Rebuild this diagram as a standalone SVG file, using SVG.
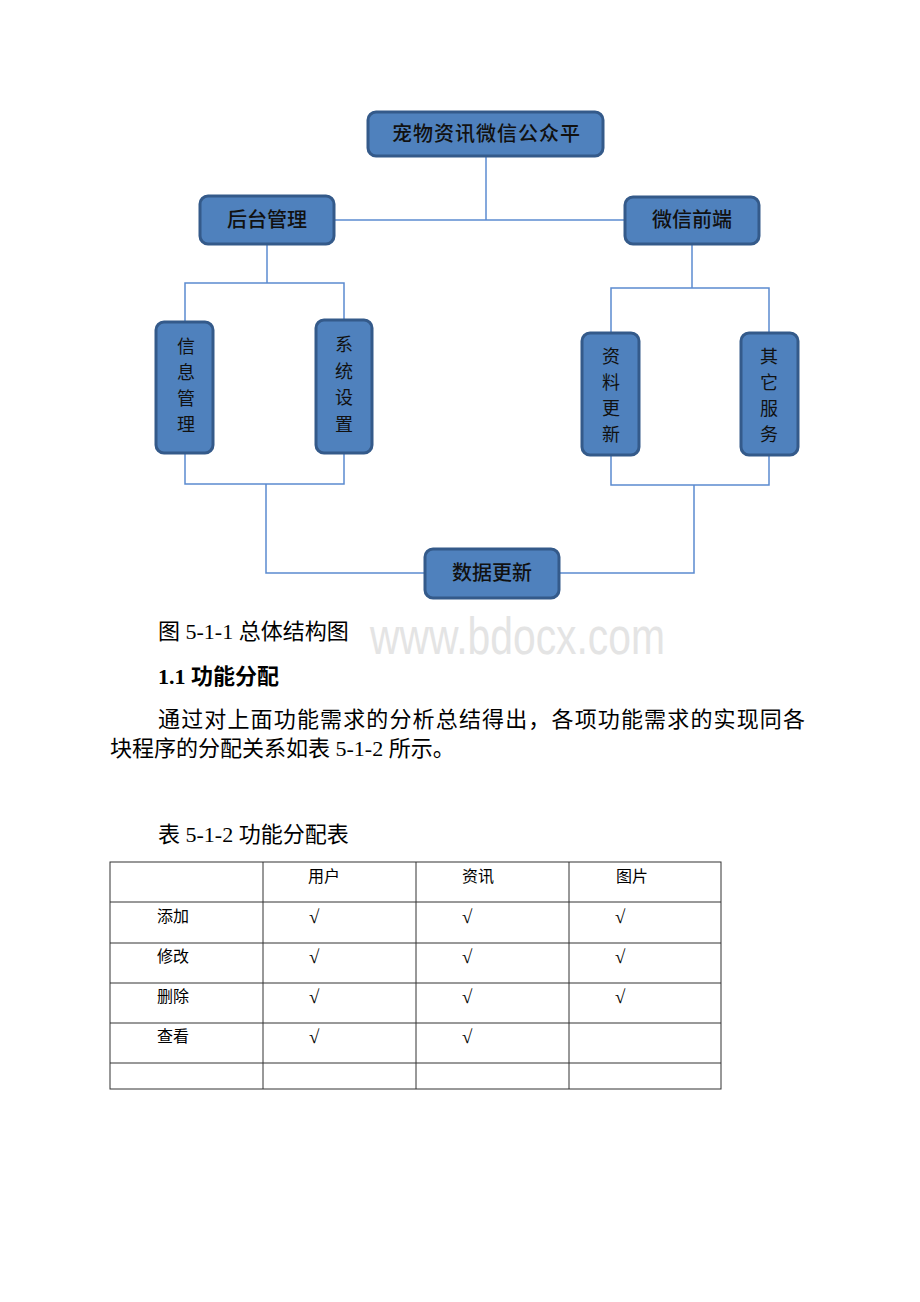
<svg xmlns="http://www.w3.org/2000/svg" width="920" height="1302" viewBox="0 0 920 1302">
<style>
.box{fill:#4f81bd;stroke:#345a8a;stroke-width:3}
.bt{font-family:"Liberation Serif","Noto Sans CJK SC",serif;font-size:20px;fill:#111;text-anchor:middle;dominant-baseline:central;font-weight:500}
.vt{font-family:"Liberation Serif","Noto Sans CJK SC",serif;font-size:18px;fill:#111;text-anchor:middle;dominant-baseline:central}
.con{fill:none;stroke:#5b8bd0;stroke-width:1.5}
.body{font-family:"Liberation Serif","Noto Sans CJK SC",serif;font-size:22px;fill:#000}
.tb{font-family:"Liberation Serif","Noto Sans CJK SC",serif;font-size:16px;fill:#000}
.ck{font-family:"Liberation Serif","DejaVu Serif",serif;font-size:19px;fill:#000}
.grid{stroke:#333;stroke-width:1;fill:none}
</style>
<rect width="920" height="1302" fill="#fff"/>
<text x="370" y="654" font-family="Liberation Sans, Arial, sans-serif" font-size="52" fill="#e4e4e4" textLength="295" lengthAdjust="spacingAndGlyphs">www.bdocx.com</text>
<g id="connectors">
<polyline class="con" points="486,156 486,220"/>
<polyline class="con" points="334,220 625,220"/>
<polyline class="con" points="267,244 267,283"/>
<polyline class="con" points="185,322 185,283 344,283 344,320"/>
<polyline class="con" points="185,454 185,484 344,484 344,454"/>
<polyline class="con" points="266,484 266,573 425,573"/>
<polyline class="con" points="692,244 692,288"/>
<polyline class="con" points="611,333 611,288 769,288 769,333"/>
<polyline class="con" points="611,455 611,485 769,485 769,455"/>
<polyline class="con" points="694,485 694,573 559,573"/>
</g>
<g id="root"><rect class="box" x="368" y="112" width="235" height="44" rx="8"/><text class="bt" x="486" y="134" textLength="188" lengthAdjust="spacing">宠物资讯微信公众平</text></g>
<g id="backend"><rect class="box" x="200" y="196" width="134" height="48" rx="8"/><text class="bt" x="267" y="220">后台管理</text></g>
<g id="frontend"><rect class="box" x="625" y="197" width="134" height="47" rx="8"/><text class="bt" x="692" y="220">微信前端</text></g>
<g id="info"><rect class="box" x="156" y="322" width="57" height="131" rx="8"/>
<text class="vt" x="186" y="347">信</text><text class="vt" x="186" y="373">息</text><text class="vt" x="186" y="399">管</text><text class="vt" x="186" y="425">理</text></g>
<g id="sys"><rect class="box" x="316" y="320" width="56" height="133" rx="8"/>
<text class="vt" x="344" y="345">系</text><text class="vt" x="344" y="372">统</text><text class="vt" x="344" y="398">设</text><text class="vt" x="344" y="425">置</text></g>
<g id="data"><rect class="box" x="582" y="333" width="57" height="122" rx="8"/>
<text class="vt" x="611" y="357">资</text><text class="vt" x="611" y="383">料</text><text class="vt" x="611" y="409">更</text><text class="vt" x="611" y="435">新</text></g>
<g id="other"><rect class="box" x="741" y="333" width="57" height="122" rx="8"/>
<text class="vt" x="769" y="357">其</text><text class="vt" x="769" y="383">它</text><text class="vt" x="769" y="409">服</text><text class="vt" x="769" y="435">务</text></g>
<g id="update"><rect class="box" x="425" y="549" width="134" height="49" rx="8"/><text class="bt" x="492" y="573">数据更新</text></g>
<g id="text">
<text class="body" x="158" y="639">图 5-1-1 总体结构图</text>
<text class="body" x="158" y="684" font-weight="bold">1.1 功能分配</text>
<text class="body" x="158" y="727" textLength="647" lengthAdjust="spacing">通过对上面功能需求的分析总结得出，各项功能需求的实现同各</text>
<text class="body" x="110" y="756">块程序的分配关系如表 5-1-2 所示。</text>
<text class="body" x="158" y="842">表 5-1-2 功能分配表</text>
</g>
<g id="table">
<rect class="grid" x="110" y="862" width="611" height="227"/>
<line class="grid" x1="263" y1="862" x2="263" y2="1089"/>
<line class="grid" x1="416" y1="862" x2="416" y2="1089"/>
<line class="grid" x1="569" y1="862" x2="569" y2="1089"/>
<line class="grid" x1="110" y1="902" x2="721" y2="902"/>
<line class="grid" x1="110" y1="943" x2="721" y2="943"/>
<line class="grid" x1="110" y1="983" x2="721" y2="983"/>
<line class="grid" x1="110" y1="1023" x2="721" y2="1023"/>
<line class="grid" x1="110" y1="1063" x2="721" y2="1063"/>
<text class="tb" x="308" y="882">用户</text><text class="tb" x="462" y="882">资讯</text><text class="tb" x="616" y="882">图片</text>
<text class="tb" x="157" y="922">添加</text><text class="ck" x="309" y="923">√</text><text class="ck" x="462" y="923">√</text><text class="ck" x="615" y="923">√</text>
<text class="tb" x="157" y="962">修改</text><text class="ck" x="309" y="963">√</text><text class="ck" x="462" y="963">√</text><text class="ck" x="615" y="963">√</text>
<text class="tb" x="157" y="1002">删除</text><text class="ck" x="309" y="1003">√</text><text class="ck" x="462" y="1003">√</text><text class="ck" x="615" y="1003">√</text>
<text class="tb" x="157" y="1042">查看</text><text class="ck" x="309" y="1043">√</text><text class="ck" x="462" y="1043">√</text>
</g>
</svg>
